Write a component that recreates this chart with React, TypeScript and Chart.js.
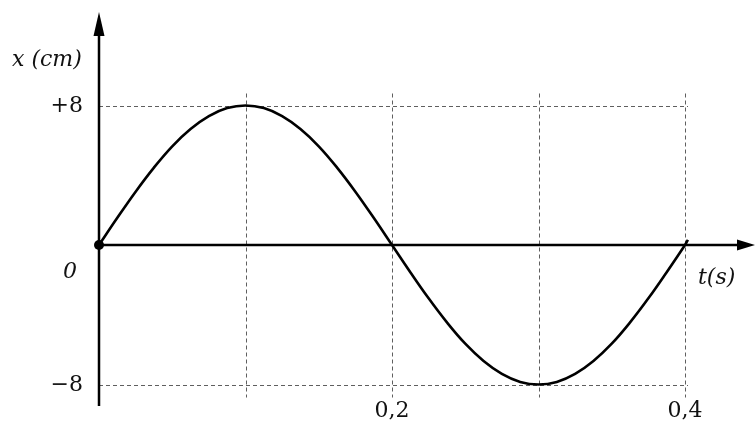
import React, { useEffect, useRef } from "react";
import { Chart, registerables } from "chart.js";

Chart.register(...registerables);

// Time (s) and displacement (cm)
const tValues = [0, 0.0125, 0.025, 0.0375, 0.05, 0.0625, 0.075, 0.0875, 0.1, 0.1125, 0.125, 0.1375, 0.15, 0.1625, 0.175, 0.1875, 0.2, 0.2125, 0.225, 0.2375, 0.25, 0.2625, 0.275, 0.2875, 0.3, 0.3125, 0.325, 0.3375, 0.35, 0.3625, 0.375, 0.3875, 0.4, 0.402];
const xValues = [0, 1.56, 3.06, 4.44, 5.66, 6.65, 7.39, 7.85, 8, 7.85, 7.39, 6.65, 5.66, 4.44, 3.06, 1.56, 0, -1.56, -3.06, -4.44, -5.66, -6.65, -7.39, -7.85, -8, -7.85, -7.39, -6.65, -5.66, -4.44, -3.06, -1.56, 0, 0.3];

const gridT = [0.1, 0.2, 0.3, 0.4];
const gridX = [8, -8];
const tTickLabels = [{ v: 0.2, label: "0,2" }, { v: 0.4, label: "0,4" }];
const xTickLabels = [{ v: 8, label: "+8" }, { v: -8, label: "\u22128" }];

const SERIF = "'DejaVu Serif', 'Liberation Serif', serif";

const overlay = {
  id: "axesOverlay",
  beforeDatasetsDraw(chart: any) {
    const ctx = chart.ctx;
    const xs = chart.scales.x;
    const ys = chart.scales.y;
    const x0 = xs.getPixelForValue(0);
    const y0 = ys.getPixelForValue(0);
    const area = chart.chartArea;
    ctx.save();
    // dashed grid
    ctx.strokeStyle = "#5f5f5f";
    ctx.lineWidth = 1;
    ctx.setLineDash([4, 3]);
    const yTop = ys.getPixelForValue(8) - 12;
    const yBot = ys.getPixelForValue(-8) + 13;
    gridT.forEach((t) => {
      const px = Math.round(xs.getPixelForValue(t)) + 0.5;
      ctx.beginPath();
      ctx.moveTo(px, yTop);
      ctx.lineTo(px, yBot);
      ctx.stroke();
    });
    const xRight = xs.getPixelForValue(0.4) + 3;
    gridX.forEach((v) => {
      const py = Math.round(ys.getPixelForValue(v)) + 0.5;
      ctx.beginPath();
      ctx.moveTo(x0, py);
      ctx.lineTo(xRight, py);
      ctx.stroke();
    });
    ctx.setLineDash([]);
    // axes
    ctx.strokeStyle = "#000";
    ctx.fillStyle = "#000";
    ctx.lineWidth = 2.5;
    ctx.beginPath();
    ctx.moveTo(x0, area.bottom);
    ctx.lineTo(x0, area.top + 20);
    ctx.stroke();
    ctx.beginPath();
    ctx.moveTo(x0, y0);
    ctx.lineTo(area.right - 14, y0);
    ctx.stroke();
    // arrows
    ctx.beginPath();
    ctx.moveTo(x0, area.top);
    ctx.lineTo(x0 - 5.5, area.top + 24);
    ctx.lineTo(x0 + 5.5, area.top + 24);
    ctx.closePath();
    ctx.fill();
    ctx.beginPath();
    ctx.moveTo(area.right, y0);
    ctx.lineTo(area.right - 18, y0 - 5.5);
    ctx.lineTo(area.right - 18, y0 + 5.5);
    ctx.closePath();
    ctx.fill();
    ctx.restore();
  },
  afterDatasetsDraw(chart: any) {
    const ctx = chart.ctx;
    const xs = chart.scales.x;
    const ys = chart.scales.y;
    const x0 = xs.getPixelForValue(0);
    const y0 = ys.getPixelForValue(0);
    ctx.save();
    // origin dot
    ctx.fillStyle = "#000";
    ctx.beginPath();
    ctx.arc(x0, y0, 5, 0, Math.PI * 2);
    ctx.fill();
    // labels
    ctx.fillStyle = "#111";
    ctx.textBaseline = "middle";
    ctx.font = `22px ${SERIF}`;
    ctx.textAlign = "right";
    xTickLabels.forEach((l) => {
      ctx.fillText(l.label, x0 - 16, ys.getPixelForValue(l.v) + 1);
    });
    ctx.textAlign = "center";
    tTickLabels.forEach((l) => {
      ctx.fillText(l.label, xs.getPixelForValue(l.v), 411);
    });
    ctx.font = `italic 22px ${SERIF}`;
    ctx.textAlign = "right";
    ctx.fillText("0", x0 - 22, y0 + 27);
    ctx.textAlign = "left";
    ctx.fillText("x (cm)", 12, 60);
    ctx.fillText("t(s)", 698, y0 + 33);
    ctx.restore();
  },
};

export default function App() {
  const ref = useRef<HTMLCanvasElement | null>(null);
  useEffect(() => {
    document.body.style.margin = "0";
    const canvas = ref.current;
    if (!canvas) return;
    const pxPerT = (685 - 99) / 0.4;
    const pxPerX = (385 - 106) / 16;
    const chart = new Chart(canvas, {
      type: "line",
      data: {
        datasets: [
          {
            data: tValues.map((t, i) => ({ x: t, y: xValues[i] })),
            borderColor: "#000",
            borderWidth: 2.6,
            pointRadius: 0,
            tension: 0.4,
            fill: false,
          },
        ],
      },
      plugins: [overlay],
      options: {
        animation: false,
        responsive: false,
        maintainAspectRatio: false,
        layout: { padding: { left: 99, right: 1, top: 12, bottom: 19 } },
        plugins: { legend: { display: false }, tooltip: { enabled: false } },
        scales: {
          x: { type: "linear", display: false, min: 0, max: (755 - 99) / pxPerT },
          y: { type: "linear", display: false, min: -(406 - 245) / pxPerX, max: (245 - 12) / pxPerX },
        },
      },
    });
    return () => chart.destroy();
  }, []);
  return (
    <div style={{ position: "absolute", left: 0, top: 0, width: 756, height: 425, background: "#fff" }}>
      <canvas ref={ref} width={756} height={425} style={{ display: "block" }} />
    </div>
  );
}
